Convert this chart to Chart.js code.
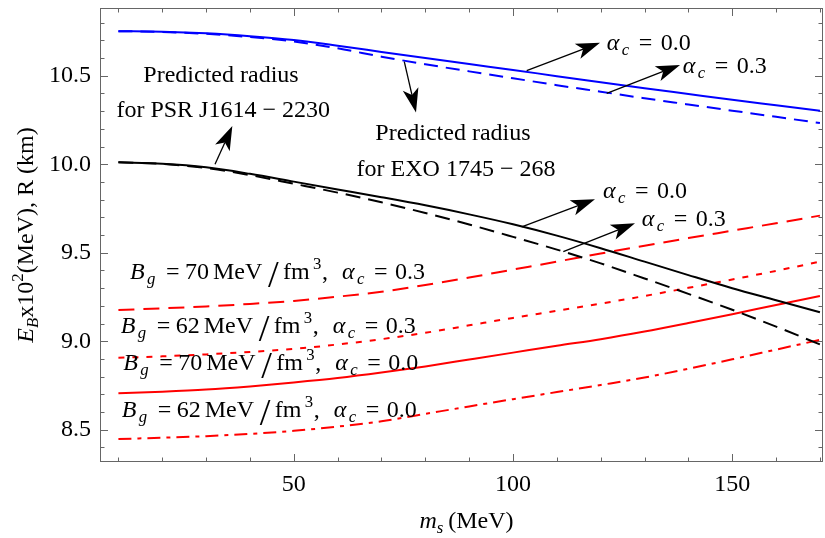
<!DOCTYPE html>
<html><head><meta charset="utf-8">
<script src="https://cdn.jsdelivr.net/npm/chart.js@4.4.1/dist/chart.umd.min.js"></script>
<style>html,body{margin:0;padding:0;background:#fff}canvas{display:block}</style>
</head><body>
<canvas id="c" width="825" height="538"></canvas>
<script>
// ---- data ----
const ms = [10,20,30,40,50,60,70,80,90,100,110,120,130,140,150,160,170];
const radiusA0 = [10.752,10.749,10.740,10.724,10.702,10.670,10.635,10.600,10.566,10.533,10.498,10.464,10.430,10.397,10.364,10.333,10.302];
const radiusA3 = [10.752,10.748,10.737,10.719,10.694,10.655,10.608,10.565,10.525,10.486,10.447,10.410,10.373,10.338,10.303,10.268,10.233];
const radiusB0 = [10.011,10.003,9.983,9.946,9.902,9.858,9.814,9.768,9.717,9.661,9.597,9.526,9.450,9.374,9.300,9.232,9.164];
const radiusB3 = [10.011,10.002,9.979,9.939,9.890,9.840,9.785,9.725,9.660,9.590,9.518,9.440,9.355,9.268,9.178,9.083,8.982];
const eb70a3 = [9.177,9.186,9.197,9.211,9.228,9.252,9.280,9.318,9.360,9.405,9.450,9.496,9.540,9.583,9.625,9.667,9.710];
const eb62a3 = [8.907,8.915,8.926,8.940,8.957,8.982,9.012,9.048,9.090,9.132,9.172,9.213,9.256,9.302,9.349,9.398,9.450];
const eb70a0 = [8.706,8.715,8.727,8.745,8.767,8.792,8.823,8.858,8.897,8.936,8.975,9.012,9.055,9.103,9.153,9.205,9.256];
const eb62a0 = [8.448,8.455,8.464,8.477,8.494,8.518,8.548,8.590,8.632,8.673,8.713,8.753,8.795,8.845,8.898,8.953,9.008];
const xMajorTicks = [50,100,150];
const xMinorTicks = [10,20,30,40,60,70,80,90,110,120,130,140,160,170];
const yMajorTicks = [8.5,9.0,9.5,10.0,10.5];
const yMinorTicks = [8.4,8.6,8.7,8.8,8.9,9.1,9.2,9.3,9.4,9.6,9.7,9.8,9.9,10.1,10.2,10.3,10.4,10.6,10.7,10.8];

const FONT = '"Liberation Serif","Times New Roman",serif';
const S = 24;

function pts(arr){ return ms.map((x,i)=>({x:x, y:arr[i]})); }
function ds(arr, color, dash){
  return {data: pts(arr), borderColor: color, borderWidth: 2, borderDash: dash || [],
    pointRadius: 0, fill: false, cubicInterpolationMode: 'monotone', borderCapStyle:'butt'};
}

function rich(ctx, segs, x, y, align){
  let cur = 0; const items = [];
  for (const s of segs){
    const sz = S*(s.sc||1);
    const f = (s.it?'italic ':'') + sz + 'px ' + FONT;
    ctx.font = f;
    const w = ctx.measureText(s.t).width;
    const px = (s.at!=null) ? s.at : cur;
    items.push({s:s, f:f, px:px});
    cur = px + w + (s.gap||0);
  }
  const x0 = align==='center' ? x - cur/2 : x;
  ctx.textBaseline = 'alphabetic'; ctx.textAlign = 'left';
  for (const it of items){
    ctx.font = it.f;
    ctx.fillText(it.s.t, x0 + it.px, y + (it.s.dy||0));
  }
}

function arrow(ctx, x1,y1,x2,y2){
  const a = Math.atan2(y2-y1, x2-x1), L = 24, W = 8, N = 6;
  const c = Math.cos(a), s = Math.sin(a);
  const bx = x2 - L*c, by = y2 - L*s;
  ctx.beginPath(); ctx.moveTo(x1,y1); ctx.lineTo(bx+N*c, by+N*s);
  ctx.lineWidth = 1.3; ctx.strokeStyle = '#000'; ctx.stroke();
  ctx.beginPath(); ctx.moveTo(x2,y2);
  ctx.lineTo(bx - W*s, by + W*c);
  ctx.lineTo(bx + N*c, by + N*s);
  ctx.lineTo(bx + W*s, by - W*c);
  ctx.closePath(); ctx.fillStyle = '#000'; ctx.fill();
}

function alphaLabel(v){
  return [{t:'\u03b1',it:1,at:0},{t:'c',it:1,sc:0.7,dy:5,at:15},{t:'=',at:32},{t:v,at:54}];
}
function bagLabel(b,a){
  return [{t:'B',it:1,at:0},{t:'g',it:1,sc:0.7,dy:5,at:17},{t:'=',at:36},{t:b,at:55},
    {t:'MeV',at:83},{t:'/',sc:1.6,dy:8,at:138},{t:'fm',at:153},{t:'3',sc:0.7,dy:-10,at:183},
    {t:',',at:192},{t:'\u03b1',it:1,at:212},{t:'c',it:1,sc:0.7,dy:5,at:227},{t:'=',at:244},{t:a,at:265}];
}

// annotations in data coordinates
const texts = [
  {x:33.4, y:10.465, segs:[{t:'Predicted radius'}], align:'center'},
  {x:33.9, y:10.267, segs:[{t:'for PSR J1614 \u2212 2230'}], align:'center'},
  {x:86.3, y:10.137, segs:[{t:'Predicted radius'}], align:'center'},
  {x:87.0, y:9.934, segs:[{t:'for EXO 1745 \u2212 268'}], align:'center'},
  {x:121.4, y:10.646, segs:alphaLabel('0.0')},
  {x:138.7, y:10.517, segs:alphaLabel('0.3')},
  {x:120.5, y:9.808, segs:alphaLabel('0.0')},
  {x:129.35, y:9.651, segs:alphaLabel('0.3')},
  {x:12.64, y:9.350, segs:bagLabel('70','0.3')},
  {x:10.52, y:9.049, segs:bagLabel('62','0.3')},
  {x:11.11, y:8.838, segs:bagLabel('70','0.0')},
  {x:10.75, y:8.574, segs:bagLabel('62','0.0')}
];
const arrows = [
  [32.03,10.0,35.98,10.216],
  [75.2,10.580,77.87,10.293],
  [103.12,10.529,119.84,10.687],
  [121.37,10.401,138.09,10.561],
  [101.98,9.647,118.69,9.802],
  [111.47,9.506,127.82,9.667]
];

const deco = {
  id:'deco',
  beforeDatasetsDraw(chart){
    const {ctx, chartArea:a, scales:{x,y}} = chart;
    ctx.save();
    ctx.strokeStyle = '#666'; ctx.lineWidth = 1;
    ctx.strokeRect(a.left+0.5, a.top+0.5, a.right-a.left-1, a.bottom-a.top-1);
    ctx.beginPath();
    const xt = (v,len)=>{ const p=Math.round(x.getPixelForValue(v))+0.5;
      ctx.moveTo(p,a.bottom); ctx.lineTo(p,a.bottom-len); ctx.moveTo(p,a.top); ctx.lineTo(p,a.top+len); };
    const yt = (v,len)=>{ const p=Math.round(y.getPixelForValue(v))+0.5;
      ctx.moveTo(a.left,p); ctx.lineTo(a.left+len,p); ctx.moveTo(a.right,p); ctx.lineTo(a.right-len,p); };
    xMajorTicks.forEach(v=>xt(v,8)); xMinorTicks.forEach(v=>xt(v,4.5));
    yMajorTicks.forEach(v=>yt(v,8)); yMinorTicks.forEach(v=>yt(v,4.5));
    ctx.stroke();
    ctx.restore();
  },
  afterDatasetsDraw(chart){
    const {ctx, chartArea:a, scales:{x,y}} = chart;
    ctx.save();
    ctx.fillStyle = '#000';
    for (const t of texts){
      rich(ctx, t.segs, x.getPixelForValue(t.x), y.getPixelForValue(t.y), t.align);
    }
    for (const r of arrows){
      arrow(ctx, x.getPixelForValue(r[0]), y.getPixelForValue(r[1]), x.getPixelForValue(r[2]), y.getPixelForValue(r[3]));
    }
    ctx.fillStyle = '#000';
    rich(ctx, [{t:'m',it:1},{t:'s',it:1,sc:0.7,dy:5,gap:5},{t:'(MeV)'}], (a.left+a.right)/2+5, 528, 'center');
    ctx.save();
    ctx.translate(33, (a.top+a.bottom)/2);
    ctx.rotate(-Math.PI/2);
    rich(ctx, [{t:'E',it:1},{t:'B',it:1,sc:0.7,dy:5},{t:'x10'},{t:'2',sc:0.7,dy:-10},{t:'(MeV), R (km)'}], 0, 0, 'center');
    ctx.restore();
    ctx.restore();
  }
};

new Chart(document.getElementById('c'), {
  type: 'line',
  data: { datasets: [
    ds(radiusA0, '#0000ff'),
    ds(radiusA3, '#0000ff', [14,8]),
    ds(radiusB0, '#000000'),
    ds(radiusB3, '#000000', [15,8]),
    ds(eb70a3, '#ff0000', [16,9]),
    ds(eb62a3, '#ff0000', [6,8]),
    ds(eb70a0, '#ff0000'),
    ds(eb62a0, '#ff0000', [13,6,4,6])
  ]},
  options: {
    responsive: false, devicePixelRatio: 1, animation: false,
    layout: { padding: {top: 8, right: 2, left: 0, bottom: 0} },
    plugins: { legend: {display:false}, tooltip: {enabled:false} },
    scales: {
      x: { type: 'linear', min: 5.8, max: 170.7,
        grid: {display:false, drawTicks:false}, border: {display:false},
        afterBuildTicks: s => { s.ticks = xMajorTicks.map(v=>({value:v})); },
        afterFit: s => { s.height = 76; s.paddingLeft = 0; s.paddingRight = 0; },
        ticks: { autoSkip:false, maxRotation:0, padding: 8, color:'#000',
          font: {family: FONT, size: S}, callback: v => String(v) } },
      y: { type: 'linear', min: 8.318, max: 10.883,
        grid: {display:false, drawTicks:false}, border: {display:false},
        afterBuildTicks: s => { s.ticks = yMajorTicks.map(v=>({value:v})); },
        afterFit: s => { s.width = 100; s.paddingTop = 0; s.paddingBottom = 0; },
        ticks: { autoSkip:false, padding: 9, color:'#000',
          font: {family: FONT, size: S}, callback: v => Number(v).toFixed(1) } }
    }
  },
  plugins: [deco]
});
</script>
</body></html>
